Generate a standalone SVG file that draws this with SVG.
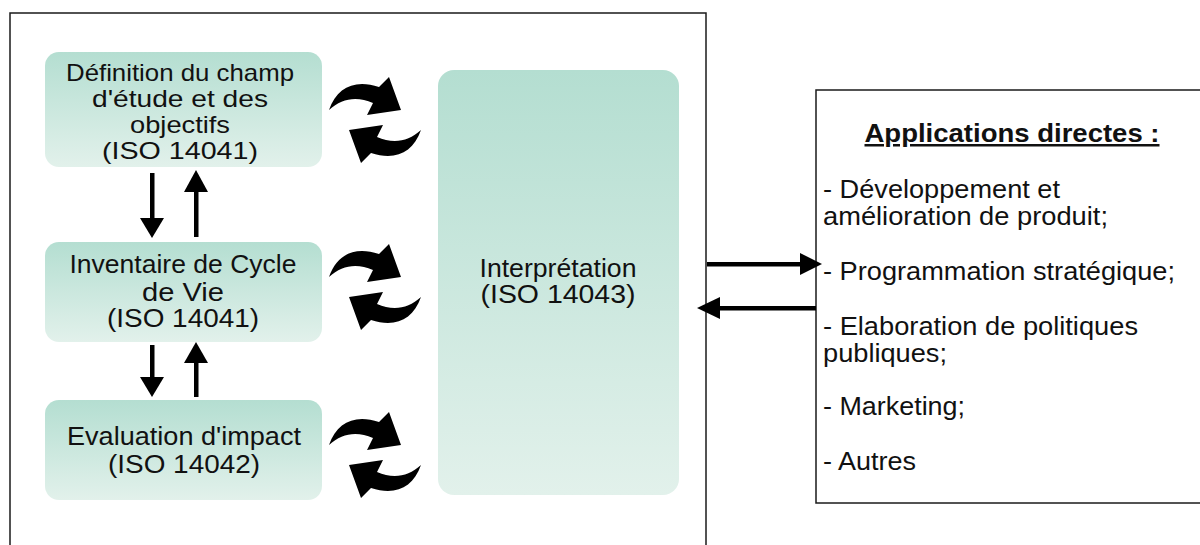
<svg xmlns="http://www.w3.org/2000/svg" width="1200" height="545" viewBox="0 0 1200 545">
<defs>
<linearGradient id="g" x1="0" y1="0" x2="0" y2="1">
<stop offset="0" stop-color="#b4ded1"/>
<stop offset="1" stop-color="#e2f1eb"/>
</linearGradient>
<path id="half" d="M-46,-10 C-38,-33 -20,-41 4,-33 L14,-43 L26,-10 L-8,-5 L-2,-17 C-18,-24 -33,-22 -46,-10 Z"/>
<g id="cyc">
<use href="#half"/>
<use href="#half" transform="rotate(180)"/>
</g>
</defs>
<style>
.box{fill:url(#g);}
.frame{fill:#fff;stroke:#1a1a1a;stroke-width:1.5;}
.t{font-family:"Liberation Sans",Arial,sans-serif;font-size:25px;fill:#111;text-anchor:middle;}
.s{font-size:24px;}
.r{font-family:"Liberation Sans",Arial,sans-serif;font-size:25px;fill:#111;}
.b{font-weight:bold;text-decoration:underline;text-anchor:middle;}
.ar{fill:#000;}
</style>
<rect class="frame" x="10" y="13" width="696" height="560"/>
<rect class="frame" x="816" y="90" width="390" height="413"/>

<g id="n1">
<rect class="box" x="45" y="52" width="277" height="115" rx="14"/>
<text class="t s" x="180" y="81" textLength="228" lengthAdjust="spacingAndGlyphs">Définition du champ</text>
<text class="t s" x="180" y="107" textLength="176" lengthAdjust="spacingAndGlyphs">d'étude et des</text>
<text class="t s" x="180" y="133" textLength="100" lengthAdjust="spacingAndGlyphs">objectifs</text>
<text class="t s" x="180" y="159" textLength="156" lengthAdjust="spacingAndGlyphs">(ISO 14041)</text>
</g>
<g id="n2">
<rect class="box" x="45" y="242" width="277" height="100" rx="14"/>
<text class="t" x="183" y="273" textLength="227" lengthAdjust="spacingAndGlyphs">Inventaire de Cycle</text>
<text class="t" x="183" y="301" textLength="82" lengthAdjust="spacingAndGlyphs">de Vie</text>
<text class="t" x="183" y="327" textLength="152" lengthAdjust="spacingAndGlyphs">(ISO 14041)</text>
</g>
<g id="n3">
<rect class="box" x="45" y="400" width="277" height="100" rx="14"/>
<text class="t" x="184" y="445" textLength="234" lengthAdjust="spacingAndGlyphs">Evaluation d'impact</text>
<text class="t" x="184" y="473" textLength="152" lengthAdjust="spacingAndGlyphs">(ISO 14042)</text>
</g>
<g id="n4">
<rect class="box" x="438" y="70" width="241" height="425" rx="16"/>
<text class="t" x="558" y="277" textLength="157" lengthAdjust="spacingAndGlyphs">Interprétation</text>
<text class="t" x="558" y="303" textLength="155" lengthAdjust="spacingAndGlyphs">(ISO 14043)</text>
</g>
<g id="n5">
<text class="r b" x="1012" y="142" textLength="295" lengthAdjust="spacingAndGlyphs">Applications directes :</text>
<text class="r" x="823" y="198" textLength="237" lengthAdjust="spacingAndGlyphs">- Développement et</text>
<text class="r" x="823" y="225" textLength="285" lengthAdjust="spacingAndGlyphs">amélioration de produit;</text>
<text class="r" x="823" y="280" textLength="352" lengthAdjust="spacingAndGlyphs">- Programmation stratégique;</text>
<text class="r" x="823" y="335" textLength="315" lengthAdjust="spacingAndGlyphs">- Elaboration de politiques</text>
<text class="r" x="823" y="362" textLength="124" lengthAdjust="spacingAndGlyphs">publiques;</text>
<text class="r" x="823" y="415" textLength="142" lengthAdjust="spacingAndGlyphs">- Marketing;</text>
<text class="r" x="823" y="470" textLength="93" lengthAdjust="spacingAndGlyphs">- Autres</text>
</g>

<g id="connectors" class="ar">
<rect x="150" y="173" width="4.5" height="46"/>
<polygon points="140,218 164,218 152,238"/>
<rect x="194" y="191" width="4.5" height="46"/>
<polygon points="184,192 208,192 196,170"/>
<rect x="150" y="345" width="4.5" height="33"/>
<polygon points="140,377 164,377 152,397"/>
<rect x="194" y="362" width="4.5" height="35"/>
<polygon points="184,363 208,363 196,342"/>
<rect x="707" y="262" width="94" height="4.5"/>
<polygon points="800,253 800,275 822,264"/>
<rect x="719" y="306" width="97" height="4.5"/>
<polygon points="720,297 720,319 697,308"/>
<use href="#cyc" x="375" y="120"/>
<use href="#cyc" x="375" y="287"/>
<use href="#cyc" x="375" y="455"/>
</g>
</svg>
